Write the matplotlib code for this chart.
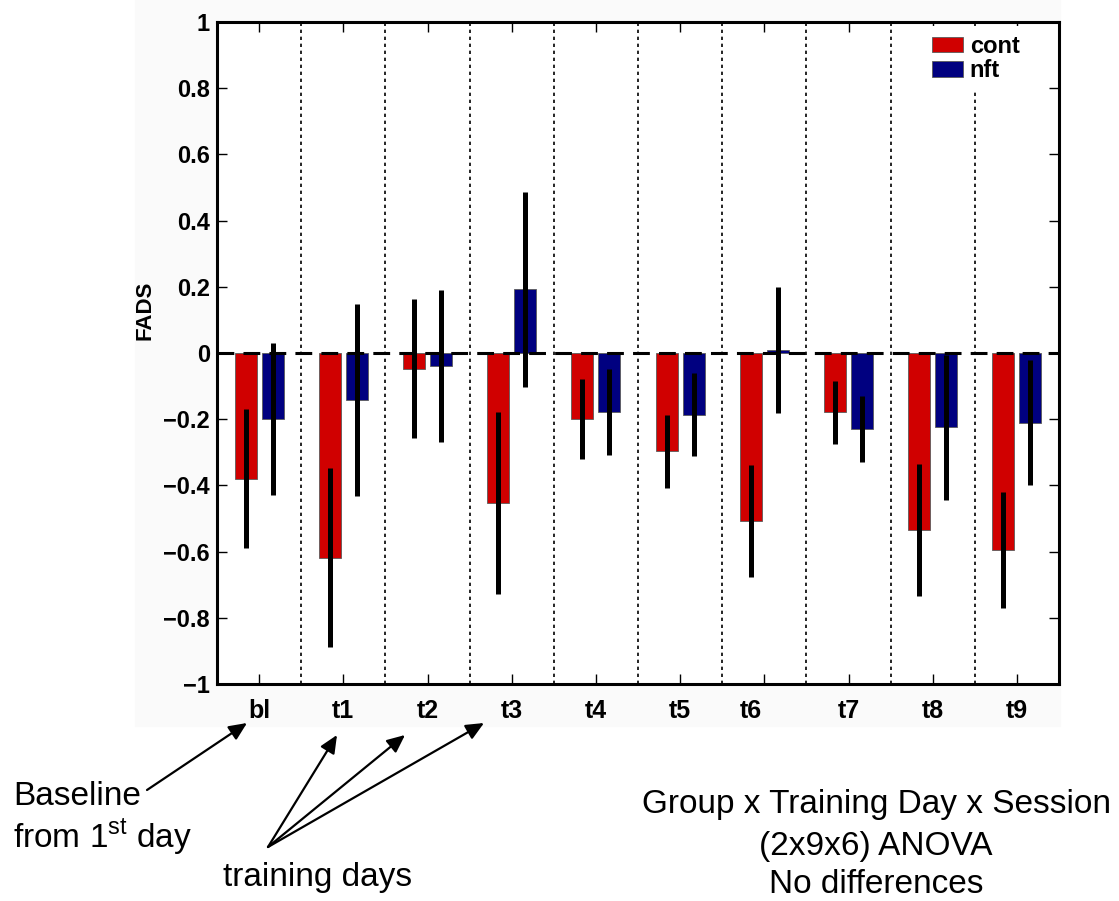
import matplotlib
matplotlib.use("Agg")
import matplotlib.pyplot as plt
import matplotlib.transforms as mtransforms
import numpy as np
from matplotlib.patches import Rectangle

plt.rcParams['font.family'] = ['Liberation Sans', 'DejaVu Sans']
plt.rcParams['mathtext.fontset'] = 'custom'
plt.rcParams['mathtext.rm'] = 'Liberation Sans'

# data
days = ['bl', 't1', 't2', 't3', 't4', 't5', 't6', 't7', 't8', 't9']
cont = [-0.38, -0.618, -0.048, -0.453, -0.20, -0.297, -0.508, -0.179, -0.535, -0.595]
cont_err = [0.21, 0.27, 0.21, 0.275, 0.12, 0.11, 0.17, 0.095, 0.20, 0.175]
nft = [-0.20, -0.143, -0.04, 0.192, -0.179, -0.186, 0.008, -0.229, -0.225, -0.21]
nft_err = [0.23, 0.29, 0.23, 0.295, 0.13, 0.125, 0.19, 0.10, 0.22, 0.19]
yticks = [1, 0.8, 0.6, 0.4, 0.2, 0, -0.2, -0.4, -0.6, -0.8, -1]
ytick_labels = ['1', '0.8', '0.6', '0.4', '0.2', '0',
                '\u22120.2', '\u22120.4', '\u22120.6', '\u22120.8', '\u22121']

W, H = 1119, 901
fig = plt.figure(figsize=(W / 100, H / 100), dpi=100)
fig.patch.set_facecolor('white')
# light grey backdrop of the pasted chart
fig.add_artist(Rectangle((135 / W, 1 - 726 / H), 925 / W, 726 / H,
                         transform=fig.transFigure, color='#fafafa', zorder=-10))

ax = fig.add_axes([217 / W, 1 - 684 / H, 842 / W, 662 / H])
ax.set_facecolor('white')

x = np.arange(1, len(days) + 1)
w = 0.26
off = 0.16

for d in np.arange(1.5, len(days), 1.0):
    ax.axvline(d, color='k', lw=1.2, ls=(0, (2, 2.2)), zorder=1)

ax.bar(x - off, cont, w, color='#d00000', edgecolor='#5a5a5a', lw=0.6, zorder=2, label='cont')
ax.bar(x + off, nft, w, color='#000080', edgecolor='#5a5a5a', lw=0.6, zorder=2, label='nft')
ax.axhline(0, color='k', lw=2.2, ls=(0, (5.5, 3)), zorder=3)
ax.errorbar(x - off, cont, yerr=cont_err, fmt='none', ecolor='k', elinewidth=3.6, capsize=0, zorder=4)
ax.errorbar(x + off, nft, yerr=nft_err, fmt='none', ecolor='k', elinewidth=3.6, capsize=0, zorder=4)

ax.set_xlim(0.5, len(days) + 0.5)
ax.set_ylim(-1, 1)
ax.set_xticks(x)
ax.set_xticklabels(days, fontsize=18, fontweight='bold')
ax.set_yticks(yticks)
ax.set_yticklabels(ytick_labels, fontsize=17, fontweight='bold')
ax.tick_params(axis='x', direction='in', top=True, length=7, width=1, pad=11)
ax.tick_params(axis='y', direction='in', right=True, length=7, width=1, pad=5)
for s in ax.spines.values():
    s.set_linewidth(2.2)

# the t6 label sits a little left of its tick in the original
lab = ax.get_xticklabels()[6]
lab.set_transform(lab.get_transform() + mtransforms.ScaledTranslation(-0.13, 0, fig.dpi_scale_trans))

ax.set_ylabel('FADS', fontsize=16, fontweight='bold')
ax.yaxis.set_label_coords((156 - 217) / 842, (684 - 310) / 662)

leg = ax.legend(loc='upper left', bbox_to_anchor=((919 - 217) / 842, 1.0),
                frameon=True, fancybox=False, facecolor='white', edgecolor='none',
                framealpha=1, prop={'weight': 'bold', 'size': 17},
                handlelength=1.3, handleheight=0.62, handletextpad=0.3,
                labelspacing=0.05, borderpad=0.4, borderaxespad=0.15)


def fp(px, py):
    return (px / W, 1 - py / H)


txt = dict(fontsize=24, color='k')
fig.text(*fp(13, 805), 'Baseline', ha='left', va='baseline', **txt)
fig.text(*fp(13, 847), r'from 1$^{\rm st}$ day', ha='left', va='baseline', **txt)
fig.text(*fp(318, 886), 'training days', ha='center', va='baseline', **txt)
fig.text(*fp(876, 813), 'Group x Training Day x Session', ha='center', va='baseline', **txt)
fig.text(*fp(876, 855), '(2x9x6) ANOVA', ha='center', va='baseline', **txt)
fig.text(*fp(876, 893), 'No differences', ha='center', va='baseline', **txt)

arrow = dict(arrowstyle='-|>,head_length=0.6,head_width=0.27', color='k', lw=1.6,
             shrinkA=0, shrinkB=0, mutation_scale=18)
ax.annotate('', xy=fp(247, 723), xytext=fp(147, 790), xycoords='figure fraction',
            textcoords='figure fraction', arrowprops=arrow, annotation_clip=False)
for tip in [(337, 735), (405, 735), (484, 723)]:
    ax.annotate('', xy=fp(*tip), xytext=fp(268, 847), xycoords='figure fraction',
                textcoords='figure fraction', arrowprops=arrow, annotation_clip=False)

fig.savefig('out.png', dpi=100, facecolor=fig.get_facecolor())
